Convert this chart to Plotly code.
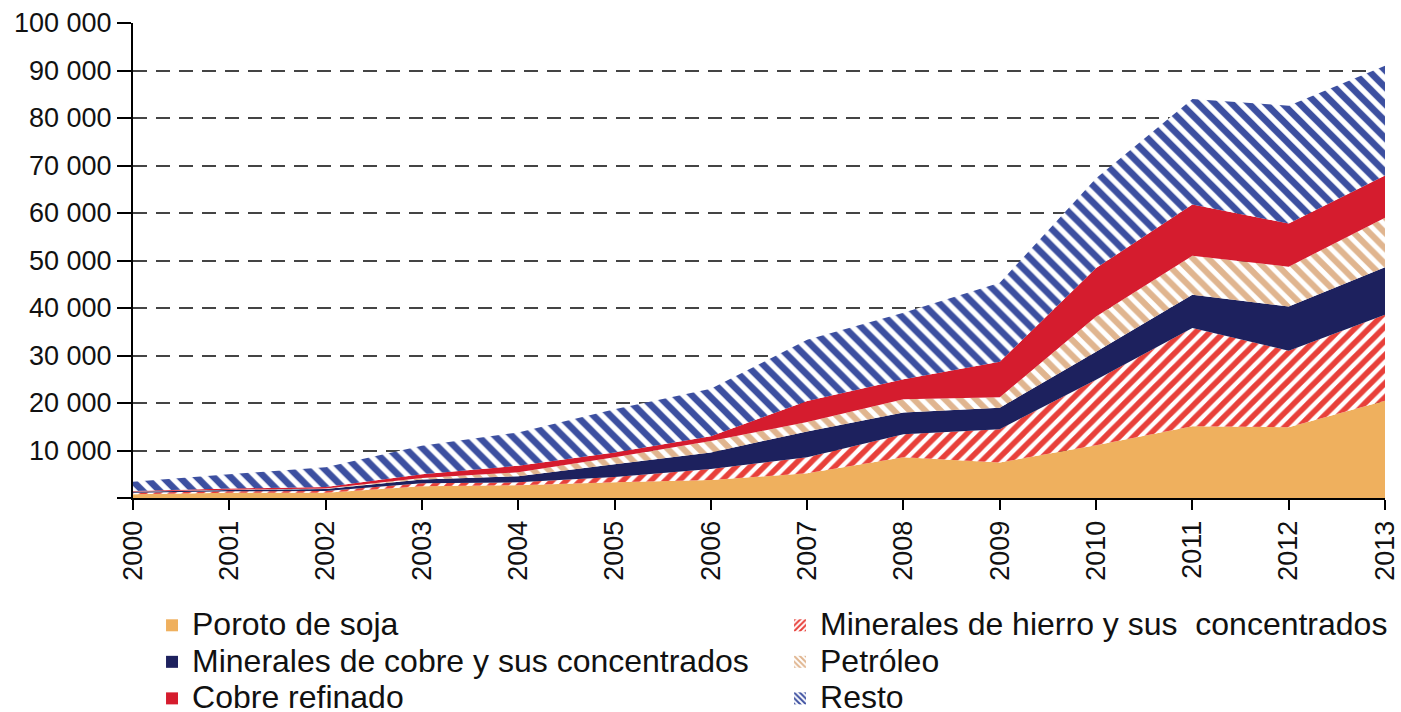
import plotly.graph_objects as go

years = list(range(2000, 2014))

poroto_soja = [800, 1100, 1100, 2500, 2700, 3300, 3800, 5200, 8600, 7500, 11100, 15100, 14900, 20500]
minerales_hierro = [300, 300, 400, 600, 600, 1100, 2300, 3400, 4800, 7000, 13800, 20700, 16100, 18100]
minerales_cobre = [200, 300, 400, 800, 1300, 2700, 3500, 5400, 4600, 4500, 5900, 7000, 9300, 10000]
petroleo = [50, 50, 100, 300, 800, 1500, 2400, 2000, 2800, 2200, 7400, 8200, 8400, 10400]
cobre_refinado = [150, 250, 300, 800, 1400, 1000, 1000, 4400, 4200, 7500, 10200, 10800, 9100, 8900]
resto = [1900, 3000, 4200, 6000, 7000, 9100, 10000, 12900, 14000, 16600, 18900, 22200, 24800, 23100]

y_ticks = [0, 10000, 20000, 30000, 40000, 50000, 60000, 70000, 80000, 90000, 100000]
y_ticktext = ["" if v == 0 else f"{v:,}".replace(",", " ") for v in y_ticks]

series = [
    ("Poroto de soja", poroto_soja, "#EFB05E", None),
    ("Minerales de hierro y sus  concentrados", minerales_hierro, "#E8403A", ("/", 10)),
    ("Minerales de cobre y sus concentrados", minerales_cobre, "#1D215E", None),
    ("Petróleo", petroleo, "#E0B58F", ("\\", 11)),
    ("Cobre refinado", cobre_refinado, "#D51C2E", None),
    ("Resto", resto, "#3C4FA0", ("\\", 12)),
]

fig = go.Figure()
for i, (name, vals, color, pat) in enumerate(series):
    kw = dict(x=years, y=vals, name=name, mode="none", stackgroup="one",
              line=dict(width=0), hoverinfo="x+y+name", legendgroup=f"g{i}",
              showlegend=False)
    if pat:
        kw["fillcolor"] = "#FFFFFF"
        kw["fillpattern"] = dict(shape=pat[0], fgcolor=color, bgcolor="#FFFFFF",
                                 fgopacity=1, size=pat[1], solidity=0.55)
    else:
        kw["fillcolor"] = color
    fig.add_trace(go.Scatter(**kw))

# legend entries (square swatches)
for i, (name, vals, color, pat) in enumerate(series):
    marker = dict(color=color if not pat else "rgba(255,255,255,0)", line=dict(width=0))
    if pat:
        marker["pattern"] = dict(shape=pat[0], fgcolor=color, bgcolor="rgba(255,255,255,0)",
                                 fgopacity=1, size=5, solidity=0.5)
    label = '<span style="font-size:32px">' + name.replace("  ", "&nbsp; ") + "</span>"
    fig.add_trace(go.Bar(x=[None], y=[None], name=label, marker=marker,
                         legendgroup=f"g{i}", showlegend=True, hoverinfo="skip"))

fig.update_layout(
    width=1401, height=712,
    margin=dict(l=133, r=16, t=23, b=214, autoexpand=False),
    paper_bgcolor="white", plot_bgcolor="white",
    font=dict(family="Liberation Sans, Arial, sans-serif", size=27, color="#111111"),
    showlegend=True,
    legend=dict(orientation="h", x=0.0152, y=-0.219, xanchor="left", yanchor="top",
                entrywidth=583, entrywidthmode="pixels",
                font=dict(size=25.8, color="#111111"), traceorder="normal",
                bgcolor="rgba(0,0,0,0)", itemclick=False, itemdoubleclick=False),
    xaxis=dict(range=[2000, 2013], tickmode="array", tickvals=years,
               ticktext=[str(y) for y in years], tickangle=-90,
               showgrid=False, zeroline=False, showline=True, linecolor="black",
               linewidth=2, ticks="outside", ticklen=10, tickwidth=2, tickcolor="black"),
    yaxis=dict(range=[0, 100000], tickmode="array", tickvals=y_ticks, ticktext=y_ticktext,
               showgrid=True, gridcolor="#444444", gridwidth=1.5,
               griddash="14px,9px", zeroline=False, showline=True, linecolor="black",
               linewidth=2, ticks="outside", ticklen=14, tickwidth=2, tickcolor="black"),
)

fig.write_html("out.html", config={"displayModeBar": False},
               post_script="document.body.style.margin='0';document.body.style.overflow='hidden';")
